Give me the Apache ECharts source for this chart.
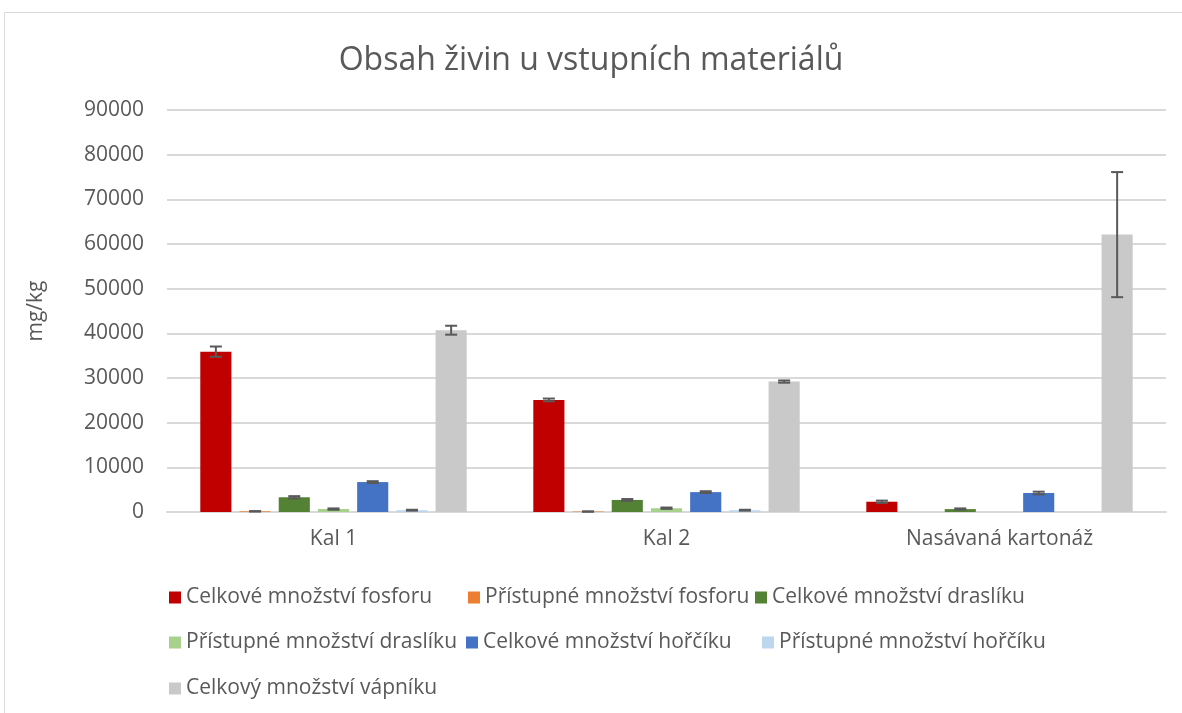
<!DOCTYPE html>
<html><head><meta charset="utf-8">
<script src="https://cdn.jsdelivr.net/npm/echarts@6/dist/echarts.min.js"></script>
<style>html,body{margin:0;padding:0;background:#fff}#c{width:1182px;height:713px}</style>
</head><body><div id="c"></div>
<script>
const categories = ['Kal 1', 'Kal 2', 'Nasávaná kartonáž'];
const seriesNames = ['Celkové množství fosforu','Přístupné množství fosforu','Celkové množství draslíku','Přístupné množství draslíku','Celkové množství hořčíku','Přístupné množství hořčíku','Celkový množství vápníku'];
const colors = ['#c00000','#ed7d31','#548235','#a9d18e','#4472c4','#bdd7ee','#c9c9c9'];
const pTotal = [35900, 25100, 2300];
const pAvail = [150, 100, 0];
const kTotal = [3300, 2700, 650];
const kAvail = [650, 850, 0];
const mgTotal = [6700, 4450, 4250];
const mgAvail = [400, 400, 0];
const caTotal = [40700, 29200, 62100];
const pTotalErr = [1150, 300, 250];
const pAvailErr = [50, 30, 0];
const kTotalErr = [250, 200, 150];
const kAvailErr = [150, 150, 0];
const mgTotalErr = [200, 200, 300];
const mgAvailErr = [100, 100, 0];
const caTotalErr = [1000, 250, 14000];
const yTicks = [0,10000,20000,30000,40000,50000,60000,70000,80000,90000];

const values = [pTotal,pAvail,kTotal,kAvail,mgTotal,mgAvail,caTotal];
const errs = [pTotalErr,pAvailErr,kTotalErr,kAvailErr,mgTotalErr,mgAvailErr,caTotalErr];
const N = values.length;
const CAT_GAP = 0.20, BAR_GAP = 0.26;
const FONT = 'Open Sans';
const series = [];
values.forEach((v,i)=>{
  series.push({name: seriesNames[i], type:'bar', data:v, itemStyle:{color:colors[i]},
    barGap: (BAR_GAP*100)+'%', barCategoryGap:(CAT_GAP*100)+'%', silent:true});
});
values.forEach((v,i)=>{
  series.push({type:'custom', silent:true, z:10,
    data: v.map((val,j)=>[j,val,errs[i][j]]),
    renderItem:function(params, api){
      const c = api.value(0), val = api.value(1), e = api.value(2);
      if (!val) return;
      const band = api.size([1,0])[0];
      const bw = band*(1-CAT_GAP)/(N+(N-1)*BAR_GAP);
      const groupW = bw*N + bw*BAR_GAP*(N-1);
      const x0 = api.coord([c,0])[0] - groupW/2 + i*bw*(1+BAR_GAP) + bw/2;
      const top = api.coord([c,val+e])[1], bot = api.coord([c,val-e])[1];
      const cap = 6;
      const st = {stroke:'#595959', lineWidth:2};
      return {type:'group', children:[
        {type:'line', shape:{x1:x0,y1:top,x2:x0,y2:bot}, style:st},
        {type:'line', shape:{x1:x0-cap,y1:top,x2:x0+cap,y2:top}, style:st},
        {type:'line', shape:{x1:x0-cap,y1:bot,x2:x0+cap,y2:bot}, style:st}
      ]};
    }
  });
});
const legendPos = [[169,587],[468,587],[755,587],[169,632],[466,632],[762,632],[169,678]];
const legends = seriesNames.map((n,i)=>({
  data:[n], left:legendPos[i][0], top:legendPos[i][1], icon:'rect', itemWidth:12, itemHeight:12,
  textStyle:{color:'#595959', fontSize:21, fontFamily:FONT}, selectedMode:false, padding:0
}));
const chart = echarts.init(document.getElementById('c'));
chart.setOption({
  animation:false,
  color: colors,
  title:{text:'Obsah živin u vstupních materiálů', left:'center', top:40,
    textStyle:{color:'#595959', fontSize:32, fontWeight:'normal', fontFamily:FONT}},
  graphic:[{type:'rect', shape:{x:4.5,y:12.5,width:1200,height:720}, style:{fill:'none', stroke:'#d9d9d9', lineWidth:1}, silent:true}],
  legend: legends,
  grid:{left:167, right:16, top:110, bottom:201, containLabel:false},
  xAxis:{type:'category', data:categories,
    axisLine:{lineStyle:{color:'#d9d9d9', width:2}}, axisTick:{show:false},
    axisLabel:{color:'#595959', fontSize:21, fontFamily:FONT, margin:17}},
  yAxis:{type:'value', min:0, max:90000, interval:10000,
    name:'mg/kg', nameLocation:'middle', nameGap:120, nameRotate:90,
    nameTextStyle:{color:'#595959', fontSize:21, fontFamily:FONT},
    axisLine:{show:false}, axisTick:{show:false},
    axisLabel:{color:'#595959', fontSize:21, fontFamily:FONT, margin:23,
      formatter:function(v){ return yTicks.indexOf(v)>=0 ? String(v) : ''; }},
    splitLine:{lineStyle:{color:'#d9d9d9', width:2}}},
  series: series
});
</script></body></html>
